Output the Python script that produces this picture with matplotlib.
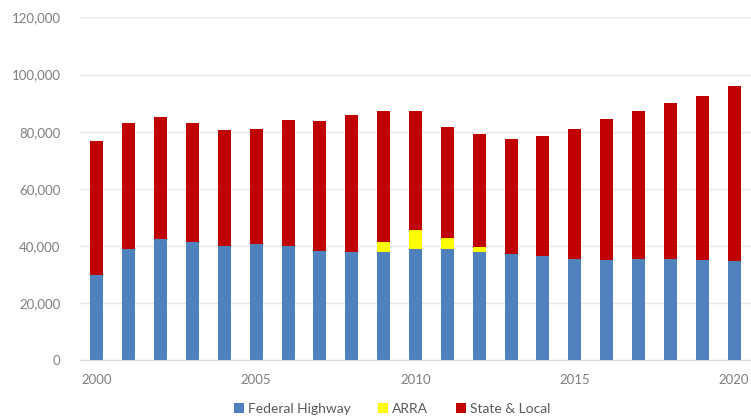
import numpy as np
import matplotlib
matplotlib.use('Agg')
import matplotlib.pyplot as plt
from matplotlib.ticker import FuncFormatter

years = list(range(2000, 2021))
total = [76600, 83000, 85100, 83000, 80500, 80900, 84200, 83900, 85700, 87400, 87400,
         81500, 79300, 77500, 78600, 81100, 84400, 87400, 90100, 92600, 95900]
federal = [29800, 38800, 42300, 41200, 39800, 40800, 39800, 38200, 37700, 37700, 38800,
           38800, 37700, 37200, 36300, 35400, 35100, 35400, 35400, 35100, 34800]
arra = [0, 0, 0, 0, 0, 0, 0, 0, 0, 3600, 6800, 3900, 1800, 0, 0, 0, 0, 0, 0, 0, 0]
state_local = [t - f - a for t, f, a in zip(total, federal, arra)]

c_fed = '#4f81bd'
c_arra = '#ffff00'
c_state = '#c00000'
gray = '#7f7f7f'

plt.rcParams['font.family'] = ['Lato', 'DejaVu Sans']

fig = plt.figure(figsize=(7.51, 4.19), dpi=100)
ax = fig.add_axes([80 / 751, 1 - 360 / 419, 1 - 80 / 751, (360 - 17.5) / 419])

x = np.array(years)
w = 0.41
ax.bar(x, federal, w, color=c_fed, label='Federal Highway', zorder=3)
ax.bar(x, arra, w, bottom=federal, color=c_arra, label='ARRA', zorder=3)
bot2 = [f + a for f, a in zip(federal, arra)]
ax.bar(x, state_local, w, bottom=bot2, color=c_state, label='State & Local', zorder=3)

ax.set_ylim(0, 120000)
ax.set_xlim(1999.47, 2020.53)
ax.set_yticks(range(0, 120001, 20000))
ax.yaxis.set_major_formatter(FuncFormatter(lambda v, p: f'{int(v):,}'))
ax.set_xticks([2000, 2005, 2010, 2015, 2020])
ax.grid(axis='y', color='#e6e6e6', linewidth=1, zorder=0)
for s in ['top', 'right', 'left']:
    ax.spines[s].set_visible(False)
ax.spines['bottom'].set_color('#d9d9d9')
ax.tick_params(axis='both', length=0, labelsize=9.5, labelcolor=gray)
ax.tick_params(axis='y', pad=14)
ax.tick_params(axis='x', pad=10)

ax.legend(loc='upper center', bbox_to_anchor=(0.465, -0.1), ncol=3, frameon=False,
          fontsize=10, labelcolor='#595959', handlelength=0.7, handleheight=0.7,
          handletextpad=0.3, columnspacing=2.0, borderpad=0.1)

fig.savefig('out.png', dpi=100)
